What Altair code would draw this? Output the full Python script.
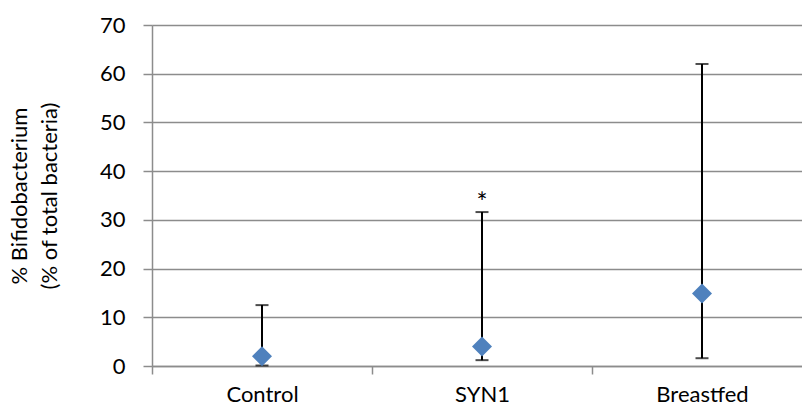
import altair as alt
import pandas as pd

groups = ["Control", "SYN1", "Breastfed"]
median = [2.0, 4.0, 14.9]
low = [0.1, 1.2, 1.6]
high = [12.5, 31.6, 62.0]
sig_group = ["SYN1"]
sig_y = [34.6]
sig_label = ["*"]

df = pd.DataFrame({"group": groups, "median": median, "low": low, "high": high})
sig_df = pd.DataFrame({"group": sig_group, "y": sig_y, "label": sig_label})

FONT = "Lato"
FS = 22
xscale = alt.Scale(domain=groups, range=[0, 660], paddingInner=0, paddingOuter=0)
yscale = alt.Scale(domain=[0, 70], nice=False)

x_enc = alt.X("group:N", scale=xscale, sort=groups,
              axis=alt.Axis(title=None, labelFontSize=FS, labelColor="#000000", labelFont=FONT,
                            labelAngle=0, tickBand="extent", tickSize=8, tickColor="#8c8c8c",
                            tickWidth=1.5, domainColor="#8c8c8c", domainWidth=1.5,
                            labelPadding=10, grid=False))

base = alt.Chart(df)

rules = base.mark_rule(color="black", strokeWidth=2).encode(
    x=x_enc,
    y=alt.Y("low:Q", scale=yscale,
            axis=alt.Axis(values=list(range(0, 71, 10)), title=["% Bifidobacterium", "(% of total bacteria)"],
                          titleFontSize=FS, titleFont=FONT, titleFontWeight="normal", titleColor="#000000",
                          titlePadding=38, titleLineHeight=30,
                          labelFontSize=FS, labelFont=FONT, labelColor="#000000",
                          tickSize=9, tickColor="#8c8c8c", tickWidth=1.5, domainColor="#8c8c8c",
                          domainWidth=1.5, labelPadding=18, gridColor="#8c8c8c", gridWidth=1.5)),
    y2="high:Q",
)

cap_lo = base.mark_tick(color="black", thickness=2, size=13, orient="horizontal").encode(
    x=alt.X("group:N", scale=xscale, sort=groups), y=alt.Y("low:Q", scale=yscale))
cap_hi = base.mark_tick(color="black", thickness=2, size=13, orient="horizontal").encode(
    x=alt.X("group:N", scale=xscale, sort=groups), y=alt.Y("high:Q", scale=yscale))

points = base.mark_point(shape="diamond", filled=True, size=400, color="#4F81BD", opacity=1).encode(
    x=alt.X("group:N", scale=xscale, sort=groups), y=alt.Y("median:Q", scale=yscale))

stars = alt.Chart(sig_df).mark_text(fontSize=26, font=FONT, color="black", baseline="middle", dy=7).encode(
    x=alt.X("group:N", scale=xscale, sort=groups), y=alt.Y("y:Q", scale=yscale), text="label:N")

chart = alt.layer(rules, cap_lo, cap_hi, points, stars).properties(
    width=650, height=341,
    autosize=alt.AutoSizeParams(type="none"),
    padding={"left": 152, "top": 25, "right": 0, "bottom": 43},
).configure_view(stroke=None).configure(background="white")

chart.save("out.html", embed_options={"renderer": "svg", "actions": False})
